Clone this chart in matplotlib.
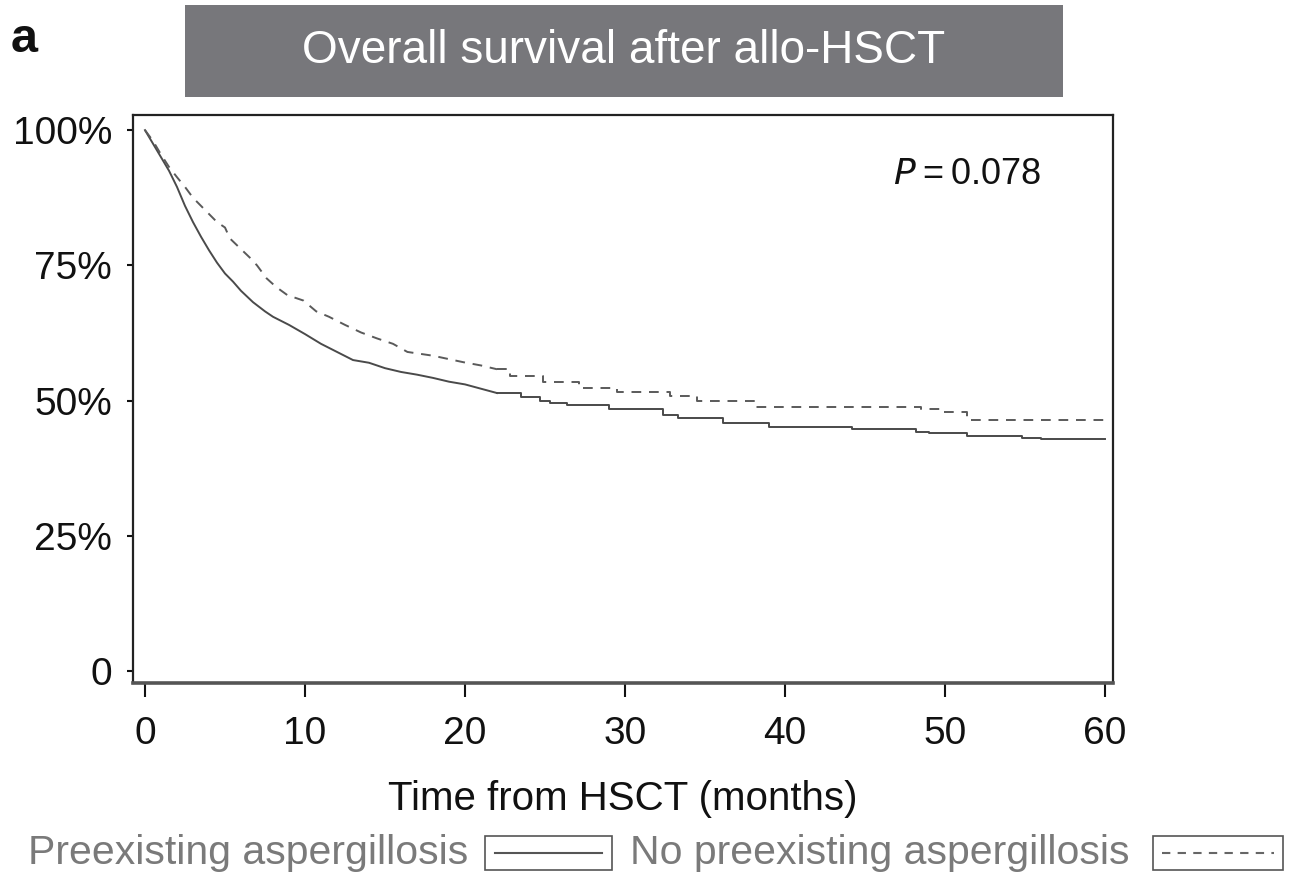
import matplotlib
matplotlib.use("Agg")
import matplotlib.pyplot as plt
from matplotlib.patches import Rectangle
from matplotlib.lines import Line2D

plt.rcParams['font.family'] = ['Liberation Sans', 'DejaVu Sans']

# Preexisting aspergillosis (solid) - early part (dense small steps, drawn as a line)
t_pre_early = [0, 0.5, 1, 1.5, 2, 2.5, 3, 3.5, 4, 4.5, 5, 5.5, 6, 6.75, 7.5, 8, 9, 10,
               11, 12, 13, 14, 15, 16, 17, 18, 19, 20, 21, 22]
s_pre_early = [100, 97.5, 95, 92.5, 89.5, 86, 83, 80.3, 77.8, 75.5, 73.5, 72, 70.3, 68.2,
               66.5, 65.5, 64, 62.3, 60.5, 59, 57.5, 57, 56, 55.3, 54.8, 54.2, 53.5, 53,
               52.2, 51.4]
# later part (visible steps)
t_pre_late = [22, 23.5, 24.7, 25.3, 26.4, 29, 32.4, 33.3, 36.1, 39, 44.2, 48.2, 49, 51.4,
              54.8, 56, 60]
s_pre_late = [51.4, 50.6, 49.9, 49.5, 49.2, 48.4, 47.3, 46.8, 45.8, 45.1, 44.7, 44.2, 44.0,
              43.4, 43.1, 42.9, 42.9]

# No preexisting aspergillosis (dashed)
t_no_early = [0, 0.5, 1, 1.5, 2, 2.5, 3, 3.5, 4, 4.5, 5, 5.3, 6, 6.6, 7, 7.6, 8.2, 8.9,
              9.9, 10.7, 11.5, 12.5, 13.5, 14.5, 15.5, 16.4, 18, 19.9, 21, 22]
s_no_early = [100, 98, 95.5, 93.2, 91.3, 89.5, 87.5, 86, 84.5, 83, 82, 80, 78, 76.3, 75,
              72.6, 71, 69.5, 68.5, 66.5, 65.5, 64, 62.6, 61.5, 60.5, 59, 58.3, 57.1,
              56.5, 55.8]
t_no_late = [22, 22.8, 24.9, 27.1, 29.5, 32.8, 34.5, 38.1, 48.5, 49.7, 51.4, 60]
s_no_late = [55.8, 54.5, 53.4, 52.3, 51.6, 50.8, 50.0, 48.8, 48.4, 47.9, 46.4, 46.4]

x_ticks = [0, 10, 20, 30, 40, 50, 60]
y_ticks = [0, 25, 50, 75, 100]
y_ticklabels = ['0', '25%', '50%', '75%', '100%']

W, H = 1293, 872
fig = plt.figure(figsize=(W / 100, H / 100), dpi=100)

def fx(px):
    return px / W

def fy(py):
    return 1 - py / H

ax = fig.add_axes([fx(133), fy(683), fx(1113) - fx(133), fy(115) - fy(683)])
solid_kw = dict(color='#4a4a4a', lw=1.4)
dash_kw = dict(color='#5a5a5a', lw=1.4, linestyle=(0, (5, 4)))
ax.plot(t_pre_early, s_pre_early, **solid_kw)
ax.plot(t_pre_late, s_pre_late, drawstyle='steps-post', **solid_kw)
ax.plot(t_no_early, s_no_early, **dash_kw)
ax.plot(t_no_late, s_no_late, drawstyle='steps-post', **dash_kw)

ax.set_xlim(-0.75, 60.5)
ax.set_ylim(-2.2, 102.8)
ax.set_xticks(x_ticks)
ax.set_xticklabels([str(v) for v in x_ticks])
ax.set_yticks(y_ticks)
ax.set_yticklabels(y_ticklabels)
ax.tick_params(axis='x', length=10, width=1.5, pad=14, labelsize=28, colors='#111111')
ax.tick_params(axis='y', length=4, width=1.5, pad=11, labelsize=28, colors='#111111')
for sp in ax.spines.values():
    sp.set_linewidth(1.6)
    sp.set_color('#222222')
ax.spines['bottom'].set_linewidth(2.6)
ax.spines['bottom'].set_color('#555555')

ax.set_xlabel('Time from HSCT (months)', fontsize=29, color='#111111', labelpad=20)

ax.text(0.776, 0.895, r'$\it{P}$' + '\u2009=\u20090.078', transform=ax.transAxes,
        fontsize=26, color='#111111', ha='left', va='center')

# Title box
fig.add_artist(Rectangle((fx(185), fy(97)), fx(1063) - fx(185), fy(5) - fy(97),
                         transform=fig.transFigure, facecolor='#77777b',
                         edgecolor='none'))
fig.text(fx(624), fy(51), 'Overall survival after allo-HSCT', color='white',
         fontsize=33, ha='center', va='center')

fig.text(fx(11), fy(40), 'a', fontsize=35, fontweight='bold', ha='left',
         va='center', color='#111111')

# Legend
leg_y = fy(853)
fig.text(fx(28), leg_y, 'Preexisting aspergillosis', fontsize=29.5, color='#7a7a7a',
         ha='left', va='center')
fig.add_artist(Rectangle((fx(485), fy(870)), fx(612) - fx(485), fy(836) - fy(870),
                         transform=fig.transFigure, facecolor='white',
                         edgecolor='#555555', lw=1.2))
fig.add_artist(Line2D([fx(495), fx(602)], [leg_y, leg_y], transform=fig.transFigure,
                      color='#555555', lw=1.5))
fig.text(fx(630), leg_y, 'No preexisting aspergillosis', fontsize=29.5, color='#7a7a7a',
         ha='left', va='center')
fig.add_artist(Rectangle((fx(1153), fy(870)), fx(1283) - fx(1153), fy(836) - fy(870),
                         transform=fig.transFigure, facecolor='white',
                         edgecolor='#555555', lw=1.2))
fig.add_artist(Line2D([fx(1162), fx(1274)], [leg_y, leg_y], transform=fig.transFigure,
                      color='#666666', lw=1.5, linestyle=(0, (4, 3.5))))

fig.savefig('out.png', dpi=100)
